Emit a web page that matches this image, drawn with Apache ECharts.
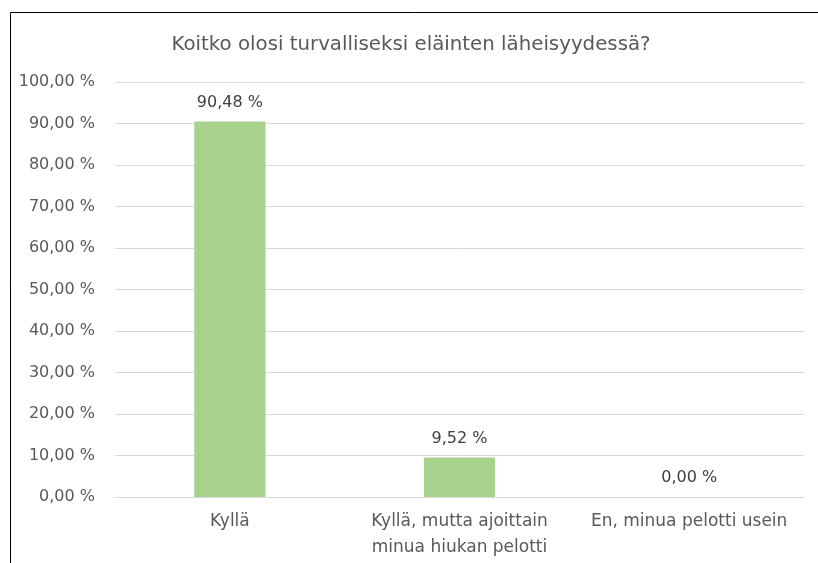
<!DOCTYPE html>
<html>
<head>
<meta charset="utf-8">
<script src="https://cdn.jsdelivr.net/npm/echarts@6/dist/echarts.min.js"></script>
<style>
  html, body { margin: 0; padding: 0; background: #fff; }
  #chart { width: 818px; height: 563px; }
</style>
</head>
<body>
<div id="chart"></div>
<script>
const titleText = 'Koitko olosi turvalliseksi eläinten läheisyydessä?'
const categories = ['Kyllä', 'Kyllä, mutta ajoittain\nminua hiukan pelotti', 'En, minua pelotti usein']
const values = [90.48, 9.52, 0.00]
const yMin = 0
const yMax = 100
const yStep = 10

const fmt = (v) => v.toFixed(2).replace('.', ',') + ' %'
const font = '"DejaVu Sans", sans-serif'

const chart = echarts.init(document.getElementById('chart'))
const option = {
  backgroundColor: '#fff',
  animation: false,
  title: {
    text: titleText,
    left: 406,
    textAlign: 'center',
    top: 30,
    textStyle: { color: '#595959', fontSize: 19.8, fontWeight: 'normal', fontFamily: font }
  },
  grid: { left: 115, right: 14, top: 82, bottom: 66 },
  xAxis: {
    type: 'category',
    data: categories,
    axisLine: { lineStyle: { color: '#d9d9d9' } },
    axisTick: { show: false },
    axisLabel: { color: '#595959', fontSize: 17, fontFamily: font, margin: 12, lineHeight: 26, interval: 0 }
  },
  yAxis: {
    type: 'value',
    min: yMin,
    max: yMax,
    interval: yStep,
    axisLine: { show: false },
    axisTick: { show: false },
    splitLine: { lineStyle: { color: '#d9d9d9' } },
    axisLabel: { color: '#595959', fontSize: 16, fontFamily: font, margin: 20, formatter: fmt }
  },
  series: [{
    type: 'bar',
    data: values,
    barWidth: '31%',
    itemStyle: { color: '#a9d18e' },
    label: {
      show: true,
      position: 'top',
      distance: 11,
      color: '#404040',
      fontSize: 16,
      fontFamily: font,
      formatter: (p) => fmt(p.value)
    }
  }],
  graphic: [{
    type: 'polyline',
    shape: { points: [[10.5, 563], [10.5, 12.5], [818, 12.5]] },
    style: { stroke: '#000', lineWidth: 1, fill: null }
  }]
}
chart.setOption(option)
</script>
</body>
</html>
